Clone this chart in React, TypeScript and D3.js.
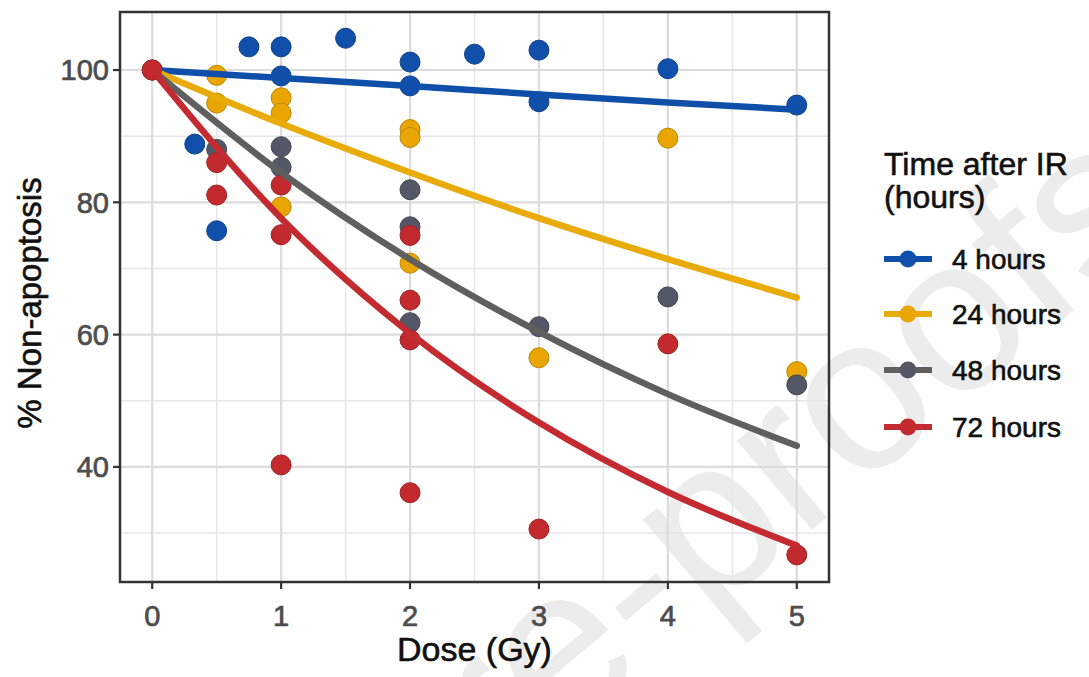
import React from "react";
import * as d3 from "d3";

const xTicks = [0, 1, 2, 3, 4, 5];
const yTicks = [40, 60, 80, 100];
const xMinor = [0.5, 1.5, 2.5, 3.5, 4.5];
const yMinor = [30, 50, 70, 90];

const seriesNames = ["4 hours", "24 hours", "48 hours", "72 hours"];
const pointColors = ["#1150AA", "#E9A600", "#545866", "#C22A2E"];
const lineColors = ["#0F4FAA", "#E9AB0A", "#5F5F5F", "#C42B30"];

const doses4 = [0, 0.33, 0.5, 0.75, 1, 1, 1.5, 2, 2, 2.5, 3, 3, 4, 5];
const vals4 = [100, 88.8, 75.7, 103.5, 103.5, 99.1, 104.8, 101.2, 97.6, 102.4, 103.0, 95.2, 100.2, 94.7];
const doses24 = [0, 0.5, 0.5, 1, 1, 1, 2, 2, 2, 3, 4, 5];
const vals24 = [100, 99.2, 95.0, 95.8, 93.5, 79.3, 91.0, 89.8, 70.8, 56.5, 89.7, 54.4];
const doses48 = [0, 0.5, 1, 1, 2, 2, 2, 3, 4, 5];
const vals48 = [100, 88.0, 88.4, 85.3, 81.9, 76.3, 61.8, 61.2, 65.7, 52.4];
const doses72 = [0, 0.5, 0.5, 1, 1, 1, 2, 2, 2, 2, 3, 4, 5];
const vals72 = [100, 86.0, 81.1, 82.6, 75.1, 40.3, 75.0, 65.2, 59.2, 36.1, 30.6, 58.6, 26.7];

const fitDoses = [0, 1, 2, 3, 4, 5];
const fit4 = [100, 98.8, 97.6, 96.3, 95.1, 94.0];
const fit24 = [100, 91.9, 84.5, 77.6, 71.4, 65.6];
const fit48 = [100, 84.5, 71.4, 60.4, 51.0, 43.2];
const fit72 = [100, 77.6, 60.2, 46.7, 36.2, 28.1];

const pointDoses = [doses4, doses24, doses48, doses72];
const pointVals = [vals4, vals24, vals48, vals72];
const fitVals = [fit4, fit24, fit48, fit72];

const PL = 120, PR = 829, PT = 12, PB = 582;

export default function App() {
  const x = d3.scaleLinear().domain([-0.25, 5.25]).range([PL, PR]);
  const y = d3.scaleLinear().domain([22.6, 108.77]).range([PB, PT]);
  const line = d3
    .line<[number, number]>()
    .x((d) => x(d[0]))
    .y((d) => y(d[1]))
    .curve(d3.curveMonotoneX);

  const font = "Liberation Sans, Arial, sans-serif";
  const legendY = [259, 314, 370, 427];
  const tickStyle = { stroke: "#4d4d4d", strokeWidth: 0.7 };
  const titleStyle = { stroke: "#111", strokeWidth: 0.6 };

  return (
    <svg width={1089} height={677} style={{ position: "absolute", left: 0, top: 0 }} fontFamily={font}>
      <rect x={0} y={0} width={1089} height={677} fill="#ffffff" />
      {/* watermark */}
      <text
        transform="translate(1175,225) rotate(-40)"
        textAnchor="end"
        fontSize={220}
        fill="#ececec"
      >
        Journal Pre-proofs
      </text>
      {/* grid */}
      {yMinor.map((v) => (
        <line key={"ym" + v} x1={PL} x2={PR} y1={y(v)} y2={y(v)} stroke="#e6e6e6" strokeWidth={1.5} />
      ))}
      {xMinor.map((v) => (
        <line key={"xm" + v} x1={x(v)} x2={x(v)} y1={PT} y2={PB} stroke="#e6e6e6" strokeWidth={1.5} />
      ))}
      {yTicks.map((v) => (
        <line key={"yg" + v} x1={PL} x2={PR} y1={y(v)} y2={y(v)} stroke="#dcdcdc" strokeWidth={2.2} />
      ))}
      {xTicks.map((v) => (
        <line key={"xg" + v} x1={x(v)} x2={x(v)} y1={PT} y2={PB} stroke="#dcdcdc" strokeWidth={2.2} />
      ))}
      {/* points */}
      {pointDoses.map((ds, si) =>
        ds.map((d, i) => (
          <circle
            key={"p" + si + "-" + i}
            cx={x(d)}
            cy={y(pointVals[si][i])}
            r={10}
            fill={pointColors[si]}
            stroke={d3.color(pointColors[si])!.darker(0.6).toString()}
            strokeWidth={1}
          />
        ))
      )}
      {/* fitted lines */}
      {fitVals.map((vs, si) => (
        <path
          key={"l" + si}
          d={line(fitDoses.map((d, i) => [d, vs[i]] as [number, number])) || ""}
          fill="none"
          stroke={lineColors[si]}
          strokeWidth={6.5}
          strokeLinecap="round"
        />
      ))}
      {/* red start point on top */}
      <circle cx={x(doses72[0])} cy={y(vals72[0])} r={10} fill={pointColors[3]} />
      {/* panel border */}
      <rect x={PL} y={PT} width={PR - PL} height={PB - PT} fill="none" stroke="#333333" strokeWidth={2.5} />
      {/* ticks */}
      {yTicks.map((v) => (
        <g key={"yt" + v}>
          <line x1={PL - 7} x2={PL} y1={y(v)} y2={y(v)} stroke="#333333" strokeWidth={2.2} />
          <text x={PL - 11} y={y(v)} dy="0.36em" textAnchor="end" fontSize={29} fill="#4d4d4d" {...tickStyle}>
            {v}
          </text>
        </g>
      ))}
      {xTicks.map((v) => (
        <g key={"xt" + v}>
          <line x1={x(v)} x2={x(v)} y1={PB} y2={PB + 7} stroke="#333333" strokeWidth={2.2} />
          <text x={x(v)} y={626} textAnchor="middle" fontSize={29} fill="#4d4d4d" {...tickStyle}>
            {v}
          </text>
        </g>
      ))}
      {/* axis titles */}
      <text x={(PL + PR) / 2} y={661} textAnchor="middle" fontSize={34} fill="#111" {...titleStyle}>
        Dose (Gy)
      </text>
      <text
        transform={`translate(41,${(PT + PB) / 2 + 6}) rotate(-90)`}
        textAnchor="middle"
        fontSize={33}
        fill="#111"
        {...titleStyle}
      >
        % Non-apoptosis
      </text>
      {/* legend */}
      <text x={884} y={175} fontSize={32} fill="#111" {...titleStyle}>
        Time after IR
      </text>
      <text x={884} y={208} fontSize={32} fill="#111" {...titleStyle}>
        (hours)
      </text>
      {seriesNames.map((name, i) => (
        <g key={"lg" + i}>
          <line x1={884} x2={932} y1={legendY[i]} y2={legendY[i]} stroke={lineColors[i]} strokeWidth={6} />
          <circle cx={908} cy={legendY[i]} r={8.5} fill={pointColors[i]} />
          <text x={952} y={legendY[i]} dy="0.36em" fontSize={28} fill="#111" {...titleStyle}>
            {name}
          </text>
        </g>
      ))}
    </svg>
  );
}
